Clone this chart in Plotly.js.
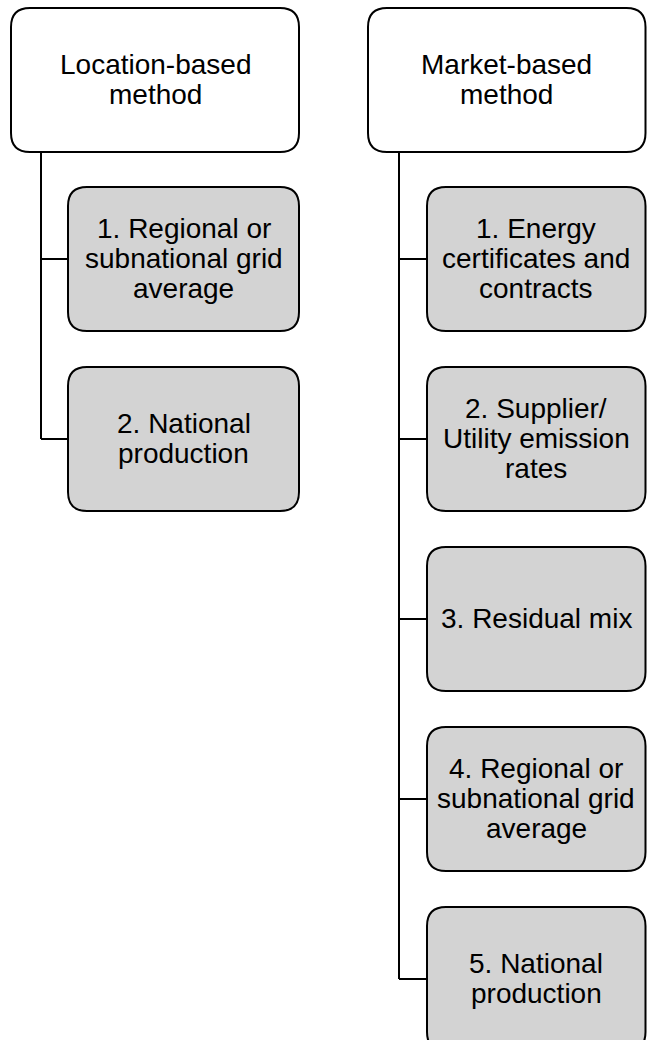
<!DOCTYPE html>
<html>
<head>
<meta charset="utf-8">
<script src="https://cdn.plot.ly/plotly-3.0.1.min.js"></script>
<style>html,body{margin:0;padding:0;background:#fff;}#chart{width:647px;height:1040px;}</style>
</head>
<body>
<div id="chart"></div>
<script>
// ---- content ----
const leftHeader = ["Location-based", "method"];
const rightHeader = ["Market-based", "method"];
const leftItems = [
  ["1. Regional or", "subnational grid", "average"],
  ["2. National", "production"]
];
const rightItems = [
  ["1. Energy", "certificates and", "contracts"],
  ["2. Supplier/", "Utility emission", "rates"],
  ["3. Residual mix"],
  ["4. Regional or", "subnational grid", "average"],
  ["5. National", "production"]
];

// ---- layout geometry (pixels) ----
const W = 647, H = 1040;
const headerTop = 8, boxH = 144, step = 180, childTop0 = 187;
const cols = [
  {header: leftHeader, items: leftItems, hx0: 11, hx1: 299, cx0: 68, cx1: 299, trunk: 41},
  {header: rightHeader, items: rightItems, hx0: 368, hx1: 645.5, cx0: 427, cx1: 645.5, trunk: 399}
];
const R = 19;
const fontSize = 28, lineGap = 30;
const stroke = {color: "#000000", width: 2};

function rrect(x0, y0, x1, y1, r) {
  return `M${x0+r},${y0} H${x1-r} Q${x1},${y0} ${x1},${y0+r} V${y1-r} Q${x1},${y1} ${x1-r},${y1} H${x0+r} Q${x0},${y1} ${x0},${y1-r} V${y0+r} Q${x0},${y0} ${x0+r},${y0} Z`;
}

const shapes = [];
const annotations = [];
function addText(lines, cx, cy) {
  const n = lines.length;
  lines.forEach((t, j) => {
    annotations.push({
      x: cx, y: cy - 1 + (j - (n - 1) / 2) * lineGap, xref: "x", yref: "y",
      text: t, showarrow: false, xanchor: "center", yanchor: "middle",
      font: {family: "Liberation Sans, Arial, sans-serif", size: fontSize, color: "#000"}
    });
  });
}

cols.forEach(c => {
  const hy1 = headerTop + boxH;
  const lastCy = childTop0 + (c.items.length - 1) * step + boxH / 2;
  // trunk
  shapes.push({type: "line", xref: "x", yref: "y", x0: c.trunk, x1: c.trunk, y0: hy1, y1: lastCy, line: stroke, layer: "below"});
  // header box
  shapes.push({type: "path", xref: "x", yref: "y", path: rrect(c.hx0, headerTop, c.hx1, hy1, R), fillcolor: "#ffffff", line: stroke});
  addText(c.header, (c.hx0 + c.hx1) / 2, headerTop + boxH / 2);
  c.items.forEach((lines, i) => {
    const y0 = childTop0 + i * step, y1 = y0 + boxH, cy = y0 + boxH / 2;
    shapes.push({type: "line", xref: "x", yref: "y", x0: c.trunk, x1: c.cx0, y0: cy, y1: cy, line: stroke, layer: "below"});
    shapes.push({type: "path", xref: "x", yref: "y", path: rrect(c.cx0, y0, c.cx1, y1, R), fillcolor: "#d3d3d3", line: stroke});
    addText(lines, (c.cx0 + c.cx1) / 2, cy);
  });
});

const layout = {
  width: W, height: H,
  margin: {l: 0, r: 0, t: 0, b: 0, pad: 0},
  paper_bgcolor: "#ffffff", plot_bgcolor: "#ffffff",
  xaxis: {range: [0, W], visible: false, fixedrange: true},
  yaxis: {range: [H, 0], visible: false, fixedrange: true},
  shapes: shapes,
  annotations: annotations,
  showlegend: false
};
Plotly.newPlot("chart", [], layout, {staticPlot: true, displayModeBar: false});
</script>
</body>
</html>
